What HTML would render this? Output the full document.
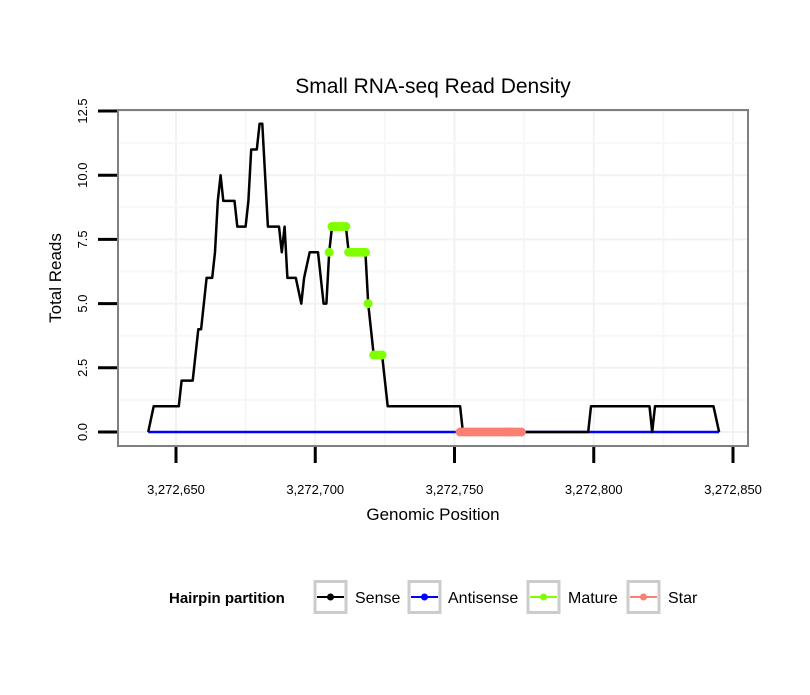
<!DOCTYPE html>
<html><head><meta charset="utf-8"><style>
body{margin:0;background:#fff;font-family:"Liberation Sans",sans-serif}
</style></head><body>
<svg id="chart" width="810" height="690" xmlns="http://www.w3.org/2000/svg" font-family="Liberation Sans, sans-serif">
<rect width="810" height="690" fill="#fff"/>
<text x="433" y="93" font-size="21" text-anchor="middle">Small RNA-seq Read Density</text>
<g id="grid"></g>
<g id="series"></g>
<rect x="118" y="110" width="630" height="336" fill="none" stroke="#7f7f7f" stroke-width="2"/>
<g id="axes"></g>
<text x="433" y="520" font-size="17" text-anchor="middle">Genomic Position</text>
<text transform="translate(61,278) rotate(-90)" font-size="17" text-anchor="middle">Total Reads</text>
<g>
<text x="169" y="603" font-size="15" font-weight="bold">Hairpin partition</text>
<g>
<rect x="315" y="581.5" width="31" height="31" fill="#fff" stroke="#ccc" stroke-width="3"/>
<line x1="317" y1="597" x2="344" y2="597" stroke="#000" stroke-width="2"/><circle cx="330.5" cy="597" r="3.5" fill="#000"/>
<text x="355" y="603" font-size="16">Sense</text></g>
<g>
<rect x="409" y="581.5" width="31" height="31" fill="#fff" stroke="#ccc" stroke-width="3"/>
<line x1="411" y1="597" x2="438" y2="597" stroke="#0000ff" stroke-width="2"/><circle cx="424.5" cy="597" r="3.5" fill="#0000ff"/>
<text x="448" y="603" font-size="16">Antisense</text></g>
<g>
<rect x="528" y="581.5" width="31" height="31" fill="#fff" stroke="#ccc" stroke-width="3"/>
<line x1="530" y1="597" x2="557" y2="597" stroke="#7fff00" stroke-width="2"/><circle cx="543.5" cy="597" r="3.5" fill="#7fff00"/>
<text x="568" y="603" font-size="16">Mature</text></g>
<g>
<rect x="628" y="581.5" width="31" height="31" fill="#fff" stroke="#ccc" stroke-width="3"/>
<line x1="630" y1="597" x2="657" y2="597" stroke="#fa8072" stroke-width="2"/><circle cx="643.5" cy="597" r="3.5" fill="#fa8072"/>
<text x="668" y="603" font-size="16">Star</text></g>
</g>
</svg>
<script>
const BASE = 3272650;
const xTicks = [3272650, 3272700, 3272750, 3272800, 3272850];
const xTickLabels = ["3,272,650", "3,272,700", "3,272,750", "3,272,800", "3,272,850"];
const yTicks = [0, 2.5, 5, 7.5, 10, 12.5];
const yTickLabels = ["0.0", "2.5", "5.0", "7.5", "10.0", "12.5"];
const senseOffsets = [-10,-8,1,2,6,8,9,11,13,14,15,16,17,21,22,25,26,27,29,30,31,32,33,37,38,39,40,43,45,46,48,51,53,54,55,56,61,62,68,69,71,74,76,102,103,148,149,170,171,172,193,195];
const senseValues  = [0,1,1,2,2,4,4,6,6,7,9,10,9,9,8,8,9,11,11,12,12,10,8,8,7,8,6,6,5,6,7,7,5,5,7,8,8,7,7,5,3,3,1,1,0,0,1,1,0,1,1,0];
const antisenseOffsets = [-10, 195];
const antisenseValues = [0, 0];
const matureOffsets = [55,56,57,58,59,60,61,62,63,64,65,66,67,68,69,71,72,73,74];
const matureValues  = [7,8,8,8,8,8,8,7,7,7,7,7,7,7,5,3,3,3,3];
const starOffsets = [102,103,104,105,106,107,108,109,110,111,112,113,114,115,116,117,118,119,120,121,122,123,124];
const starValues  = [0,0,0,0,0,0,0,0,0,0,0,0,0,0,0,0,0,0,0,0,0,0,0];

const NS = "http://www.w3.org/2000/svg";
function xs(pos){ return 176 + (pos - 3272650) * (557 / 200); }
function ys(v){ return 432 - v * 25.68; }
function mk(tag, attrs, parent){ const e = document.createElementNS(NS, tag); for (const k in attrs) e.setAttribute(k, attrs[k]); parent.appendChild(e); return e; }

const grid = document.getElementById("grid");
const axes = document.getElementById("axes");
const series = document.getElementById("series");

for (let i = 0; i < xTicks.length; i++) {
  const x = xs(xTicks[i]);
  const g = mk("line", {x1:x, y1:111, x2:x, y2:445, stroke:"#f2f2f2", "stroke-width":2}, grid);
  
  
  if (i < xTicks.length - 1) {
    const xm = xs((xTicks[i] + xTicks[i+1]) / 2);
    const gm = mk("line", {x1:xm, y1:111, x2:xm, y2:445, stroke:"#f7f7f7", "stroke-width":2}, grid);
    
    
  }
  const t = mk("line", {x1:x, y1:447, x2:x, y2:463, stroke:"#000", "stroke-width":3}, axes);
  
  
  const l = mk("text", {x:x, y:494, "font-size":13, "text-anchor":"middle"}, axes);
  l.textContent = xTickLabels[i];
  
  
}
for (let i = 0; i < yTicks.length; i++) {
  const y = ys(yTicks[i]);
  const g = mk("line", {x1:119, y1:y, x2:747, y2:y, stroke:"#f2f2f2", "stroke-width":2}, grid);
  
  
  if (i < yTicks.length - 1) {
    const ym = ys((yTicks[i] + yTicks[i+1]) / 2);
    const gm = mk("line", {x1:119, y1:ym, x2:747, y2:ym, stroke:"#f7f7f7", "stroke-width":2}, grid);
    
    
  }
  const t = mk("line", {x1:98, y1:y, x2:117, y2:y, stroke:"#000", "stroke-width":3}, axes);
  
  
  const l = mk("text", {transform:"translate(87," + y + ") rotate(-90)", "font-size":13, "text-anchor":"middle"}, axes);
  l.textContent = yTickLabels[i];
  
  
}

function line(offs, vals, color, name){
  const pts = offs.map((o, i) => xs(BASE + o).toFixed(1) + "," + ys(vals[i]).toFixed(1)).join(" ");
  const p = mk("polyline", {points:pts, fill:"none", stroke:color, "stroke-width":2.5, "stroke-linejoin":"round"}, series);
  
  
}
line(antisenseOffsets, antisenseValues, "#0000ff", "antisense-line");
line(senseOffsets, senseValues, "#000000", "sense-line");
function dots(offs, vals, color, name){
  offs.forEach((o, i) => {
    const c = mk("circle", {cx:xs(BASE + o), cy:ys(vals[i]), r:4.5, fill:color}, series);
    
    
  });
}
dots(matureOffsets, matureValues, "#7fff00", "mature-point");
dots(starOffsets, starValues, "#fa8072", "star-point");
</script>
</body></html>
